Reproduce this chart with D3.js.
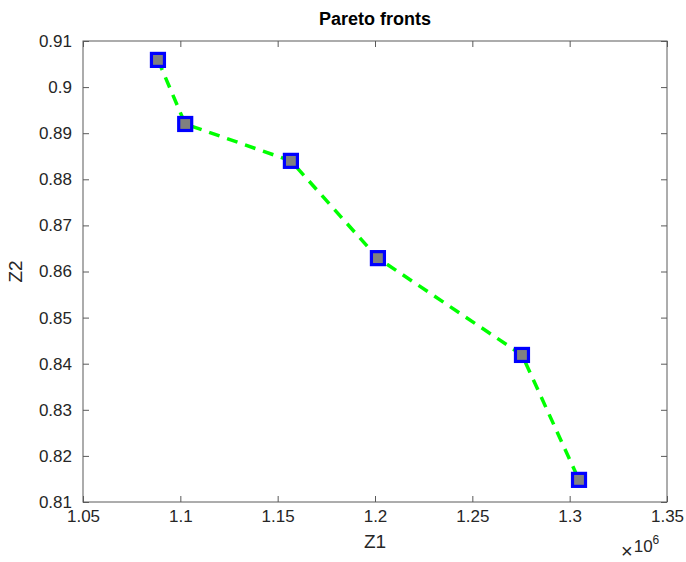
<!DOCTYPE html>
<html>
<head>
<meta charset="utf-8">
<script src="https://cdn.jsdelivr.net/npm/d3@7"></script>
<style>
  body { margin: 0; background: #fff; }
  text { font-family: "Liberation Sans", Arial, sans-serif; }
</style>
</head>
<body>
<div id="chart"></div>
<script>
// Pareto front points (Z1 in units of 1e6)
const z1Values = [1.0885, 1.1025, 1.1568, 1.2015, 1.2755, 1.3048];
const z2Values = [0.9059, 0.8920, 0.8840, 0.8629, 0.8419, 0.8148];
const xTicks = [1.05, 1.1, 1.15, 1.2, 1.25, 1.3, 1.35];
const yTicks = [0.81, 0.82, 0.83, 0.84, 0.85, 0.86, 0.87, 0.88, 0.89, 0.9, 0.91];

const width = 686, height = 562;
const plot = { left: 83, top: 41, right: 667, bottom: 502 };

const svg = d3.select("#chart").append("svg")
    .attr("width", width)
    .attr("height", height);

const x = d3.scaleLinear().domain([1.05, 1.35]).range([plot.left, plot.right]);
const y = d3.scaleLinear().domain([0.81, 0.91]).range([plot.bottom, plot.top]);

const axisColor = "#5a5a5a";
const labelColor = "#262626";

// box
svg.append("rect")
    .attr("x", plot.left).attr("y", plot.top)
    .attr("width", plot.right - plot.left)
    .attr("height", plot.bottom - plot.top)
    .attr("fill", "none")
    .attr("stroke", axisColor)
    .attr("stroke-width", 1);

// axes with inward ticks
function styleAxis(g) {
    g.select(".domain").remove();
    g.selectAll(".tick line").attr("stroke", axisColor);
    g.selectAll(".tick text")
        .attr("fill", labelColor)
        .style("font-size", "17px");
}

svg.append("g")
    .attr("transform", `translate(0,${plot.bottom})`)
    .call(d3.axisBottom(x).tickValues(xTicks).tickFormat(d3.format("")).tickSizeInner(-6).tickPadding(8))
    .call(styleAxis);

svg.append("g")
    .attr("transform", `translate(0,${plot.top})`)
    .call(d3.axisTop(x).tickValues(xTicks).tickFormat("").tickSizeInner(-6))
    .call(styleAxis);

svg.append("g")
    .attr("transform", `translate(${plot.left},0)`)
    .call(d3.axisLeft(y).tickValues(yTicks).tickFormat(d3.format("")).tickSizeInner(-6).tickPadding(11))
    .call(styleAxis);

svg.append("g")
    .attr("transform", `translate(${plot.right},0)`)
    .call(d3.axisRight(y).tickValues(yTicks).tickFormat("").tickSizeInner(-6))
    .call(styleAxis);

// dashed front line
const pts = z1Values.map((d, i) => [d, z2Values[i]]);
svg.append("path")
    .datum(pts)
    .attr("fill", "none")
    .attr("stroke", "#00ff00")
    .attr("stroke-width", 3.5)
    .attr("stroke-dasharray", "11,8")
    .attr("d", d3.line().x(d => x(d[0])).y(d => y(d[1])));

// square markers
const s = 13;
svg.selectAll("rect.marker")
    .data(pts)
    .enter().append("rect")
    .attr("class", "marker")
    .attr("x", d => x(d[0]) - s / 2)
    .attr("y", d => y(d[1]) - s / 2)
    .attr("width", s).attr("height", s)
    .attr("fill", "#808080")
    .attr("stroke", "#0000ff")
    .attr("stroke-width", 3.2);

// title and labels
svg.append("text")
    .attr("x", (plot.left + plot.right) / 2).attr("y", 25)
    .attr("text-anchor", "middle")
    .style("font-size", "18px").style("font-weight", "bold")
    .attr("fill", "#000")
    .text("Pareto fronts");

svg.append("text")
    .attr("x", (plot.left + plot.right) / 2).attr("y", 548)
    .attr("text-anchor", "middle")
    .style("font-size", "19px")
    .attr("fill", labelColor)
    .text("Z1");

svg.append("text")
    .attr("transform", `translate(22,${(plot.top + plot.bottom) / 2}) rotate(-90)`)
    .attr("text-anchor", "middle")
    .style("font-size", "19px")
    .attr("fill", labelColor)
    .text("Z2");

// exponent label
const ex = svg.append("text")
    .attr("x", 621).attr("y", 558)
    .attr("fill", labelColor)
    .style("font-size", "17px");
ex.append("tspan").text("\u00d7").style("font-size", "20px");
ex.append("tspan").attr("dx", 1).attr("dy", -6).text("10");
ex.append("tspan").attr("dy", -8).style("font-size", "12px").text("6");
</script>
</body>
</html>
